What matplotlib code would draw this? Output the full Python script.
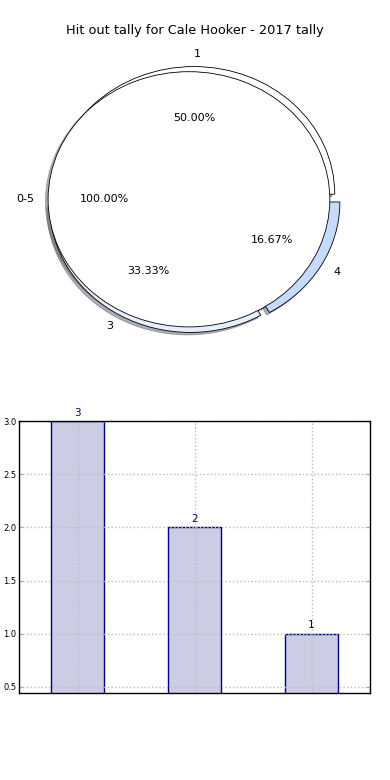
import numpy as np
import matplotlib.pyplot as plt

# outer ring: hit-out counts per group
outer_labels = ['1', '3', '4']
outer_values = [3, 2, 1]
outer_colors = ['#ffffff', '#e6eeff', '#c6dafc']
outer_explode = [0.04, 0.05, 0.042]

# inner pie: the whole tally range
inner_labels = ['0-5']
inner_values = [6]

# bar chart
bar_labels = ['1', '3', '4']
bar_values = [3, 2, 1]

fig = plt.figure(figsize=(3.9, 7.8), dpi=100)

shadow = dict(ox=-0.014, oy=-0.014, shade=0.6)

ax1 = fig.add_axes([0.033, 0.54, 0.903, 0.409])
ax1.pie(outer_values, labels=outer_labels, colors=outer_colors,
        explode=outer_explode, radius=1.0, center=(0.035, 0),
        autopct='%1.2f%%', pctdistance=0.6, labeldistance=1.1, shadow=shadow,
        wedgeprops=dict(edgecolor='black', linewidth=0.6),
        textprops=dict(fontsize=8))
ax1.pie(inner_values, labels=inner_labels, colors=['white'],
        radius=1.0, autopct='%1.2f%%', pctdistance=0.6,
        labeldistance=1.1, shadow=shadow,
        wedgeprops=dict(edgecolor='black', linewidth=0.6),
        textprops=dict(fontsize=8))
ax1.set_aspect('auto')
ax1.set_xlim(-1.25, 1.25)
ax1.set_ylim(-1.25, 1.25)
ax1.set_title('Hit out tally for Cale Hooker - 2017 tally', fontsize=9.3,
              pad=4, x=0.516)

ax2 = fig.add_axes([0.049, 0.112, 0.9, 0.348])
x = np.arange(len(bar_values))
bars = ax2.bar(x, bar_values, width=0.45, color='#ccccE4', edgecolor='#000080',
               linewidth=1.0)
for b, v in zip(bars, bar_values):
    ax2.text(b.get_x() + b.get_width() / 2, v + 0.03, str(v), ha='center',
             va='bottom', color='#000080', fontsize=7.5)
ax2.set_xlim(-0.5, 2.5)
ax2.set_ylim(0.445, 3.0)
ax2.set_xticks(x)
ax2.set_xticklabels([])
ax2.set_yticks([0.5, 1.0, 1.5, 2.0, 2.5, 3.0])
ax2.tick_params(axis='both', direction='in', length=3, color='#aaaaaa',
                labelsize=6, right=True, top=True, pad=2)
ax2.tick_params(axis='x', length=0)
ax2.grid(True, color='#bbbbbb', linestyle=':', linewidth=1)
ax2.set_axisbelow(False)
for s in ax2.spines.values():
    s.set_linewidth(1.0)
    s.set_zorder(4)

fig.savefig('out.png', dpi=100)
